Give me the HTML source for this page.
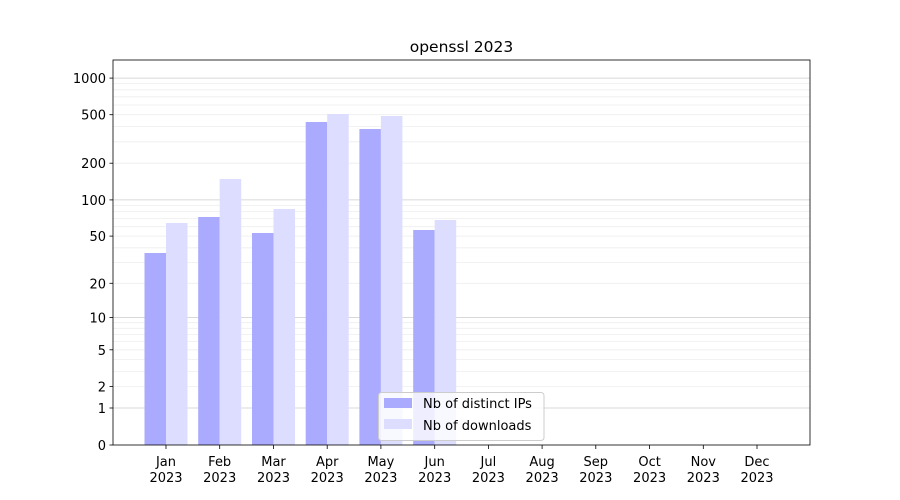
<!DOCTYPE html>
<html><head><style>body{margin:0;background:#fff}svg{display:block}text{font-family:"DejaVu Sans","Liberation Sans",sans-serif;font-size:13px;fill:#000}</style></head>
<body>
<svg width="900" height="500" xmlns="http://www.w3.org/2000/svg">
<g stroke="#eeeeee" stroke-width="0.8">
<line x1="113" x2="810" y1="371.4" y2="371.4"/><line x1="113" x2="810" y1="359.5" y2="359.5"/><line x1="113" x2="810" y1="341.6" y2="341.6"/><line x1="113" x2="810" y1="334.6" y2="334.6"/><line x1="113" x2="810" y1="328.3" y2="328.3"/><line x1="113" x2="810" y1="322.7" y2="322.7"/>
<line x1="113" x2="810" y1="262.6" y2="262.6"/><line x1="113" x2="810" y1="247.8" y2="247.8"/><line x1="113" x2="810" y1="226.7" y2="226.7"/><line x1="113" x2="810" y1="218.6" y2="218.6"/><line x1="113" x2="810" y1="211.6" y2="211.6"/><line x1="113" x2="810" y1="205.4" y2="205.4"/>
<line x1="113" x2="810" y1="141.8" y2="141.8"/><line x1="113" x2="810" y1="126.5" y2="126.5"/><line x1="113" x2="810" y1="105" y2="105"/><line x1="113" x2="810" y1="96.8" y2="96.8"/><line x1="113" x2="810" y1="89.8" y2="89.8"/><line x1="113" x2="810" y1="83.5" y2="83.5"/>
<line x1="113" x2="810" y1="386.6" y2="386.6"/><line x1="113" x2="810" y1="349.8" y2="349.8"/><line x1="113" x2="810" y1="283.3" y2="283.3"/><line x1="113" x2="810" y1="236.1" y2="236.1"/><line x1="113" x2="810" y1="163.2" y2="163.2"/><line x1="113" x2="810" y1="114.7" y2="114.7"/>
</g>
<g stroke="#cccccc" stroke-width="0.8">
<line x1="113" x2="810" y1="408" y2="408"/><line x1="113" x2="810" y1="317.6" y2="317.6"/><line x1="113" x2="810" y1="199.9" y2="199.9"/><line x1="113" x2="810" y1="78.1" y2="78.1"/>
</g>
<g fill="#aaaaff">
<rect x="144.5" y="253" width="21.5" height="192"/>
<rect x="198.2" y="217" width="21.5" height="228"/>
<rect x="252" y="233" width="21.5" height="212"/>
<rect x="305.7" y="122" width="21.5" height="323"/>
<rect x="359.4" y="129" width="21.5" height="316"/>
<rect x="413.2" y="230" width="21.5" height="215"/>
</g>
<g fill="#ddddff">
<rect x="166" y="223" width="21.5" height="222"/>
<rect x="219.7" y="179" width="21.5" height="266"/>
<rect x="273.5" y="209" width="21.5" height="236"/>
<rect x="327.2" y="114" width="21.5" height="331"/>
<rect x="380.9" y="116" width="21.5" height="329"/>
<rect x="434.7" y="220" width="21.5" height="225"/>
</g>
<rect x="113" y="60" width="697" height="385" fill="none" stroke="#000" stroke-width="0.8"/>
<g stroke="#000" stroke-width="0.8">
<line x1="109.5" x2="113" y1="445" y2="445"/><line x1="109.5" x2="113" y1="408" y2="408"/><line x1="109.5" x2="113" y1="386.6" y2="386.6"/><line x1="109.5" x2="113" y1="349.8" y2="349.8"/><line x1="109.5" x2="113" y1="317.6" y2="317.6"/><line x1="109.5" x2="113" y1="283.3" y2="283.3"/><line x1="109.5" x2="113" y1="236.1" y2="236.1"/><line x1="109.5" x2="113" y1="199.9" y2="199.9"/><line x1="109.5" x2="113" y1="163.2" y2="163.2"/><line x1="109.5" x2="113" y1="114.7" y2="114.7"/><line x1="109.5" x2="113" y1="78.1" y2="78.1"/>
<line x1="166" x2="166" y1="445" y2="449"/><line x1="219.7" x2="219.7" y1="445" y2="449"/><line x1="273.5" x2="273.5" y1="445" y2="449"/><line x1="327.2" x2="327.2" y1="445" y2="449"/><line x1="380.9" x2="380.9" y1="445" y2="449"/><line x1="434.7" x2="434.7" y1="445" y2="449"/><line x1="488.4" x2="488.4" y1="445" y2="449"/><line x1="542.1" x2="542.1" y1="445" y2="449"/><line x1="595.8" x2="595.8" y1="445" y2="449"/><line x1="649.6" x2="649.6" y1="445" y2="449"/><line x1="703.3" x2="703.3" y1="445" y2="449"/><line x1="757" x2="757" y1="445" y2="449"/>
</g>
<g text-anchor="end">
<text x="106" y="450">0</text><text x="106" y="413">1</text><text x="106" y="391.6">2</text><text x="106" y="354.8">5</text><text x="106" y="322.6">10</text><text x="106" y="288.3">20</text><text x="106" y="241.1">50</text><text x="106" y="204.9">100</text><text x="106" y="168.2">200</text><text x="106" y="119.7">500</text><text x="106" y="83.1">1000</text>
</g>
<g text-anchor="middle">
<text x="166" y="466">Jan</text><text x="166" y="482">2023</text>
<text x="219.7" y="466">Feb</text><text x="219.7" y="482">2023</text>
<text x="273.5" y="466">Mar</text><text x="273.5" y="482">2023</text>
<text x="327.2" y="466">Apr</text><text x="327.2" y="482">2023</text>
<text x="380.9" y="466">May</text><text x="380.9" y="482">2023</text>
<text x="434.7" y="466">Jun</text><text x="434.7" y="482">2023</text>
<text x="488.4" y="466">Jul</text><text x="488.4" y="482">2023</text>
<text x="542.1" y="466">Aug</text><text x="542.1" y="482">2023</text>
<text x="595.8" y="466">Sep</text><text x="595.8" y="482">2023</text>
<text x="649.6" y="466">Oct</text><text x="649.6" y="482">2023</text>
<text x="703.3" y="466">Nov</text><text x="703.3" y="482">2023</text>
<text x="757" y="466">Dec</text><text x="757" y="482">2023</text>
<text x="461.5" y="52" style="font-size:15.5px">openssl 2023</text>
</g>
<rect x="378.5" y="392.5" width="165.5" height="48" rx="3" fill="#fff" fill-opacity="0.8" stroke="#cccccc"/>
<rect x="384" y="398" width="28" height="10" fill="#aaaaff"/>
<rect x="384" y="419" width="28" height="10" fill="#ddddff"/>
<text x="423" y="408">Nb of distinct IPs</text>
<text x="423" y="430">Nb of downloads</text>
</svg>
</body></html>
